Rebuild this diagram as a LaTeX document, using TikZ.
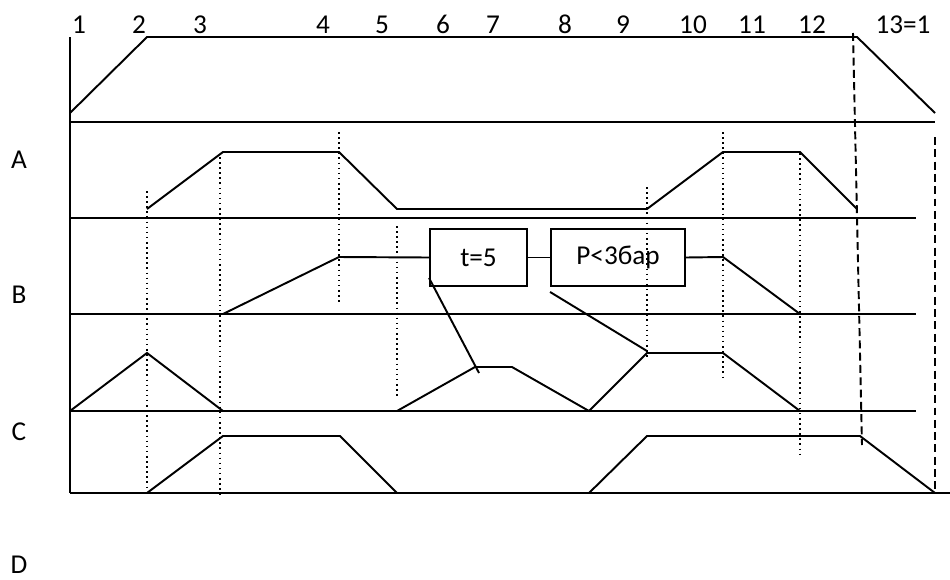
\documentclass[tikz,border=0pt]{standalone}
\usepackage{fontspec}
\setmainfont{Carlito}
\usetikzlibrary{calc}

\begin{document}
\begin{tikzpicture}[
    x=0.02cm, y=-0.02cm,
    sig/.style={line width=1.1pt, line join=miter},
    guide/.style={dotted, line width=0.9pt},
    endcut/.style={line width=1.1pt, dash pattern=on 4.5pt off 2.5pt},
    lbl/.style={font=\fontsize{15.5}{18}\selectfont, inner sep=0pt, anchor=base},
    cond/.style={draw, line width=1.1pt, inner sep=0pt, minimum height=1.14cm,
        font=\fontsize{15.5}{18}\selectfont},
]
\useasboundingbox (0,0) rectangle (950,579);
% ----- step numbers and row names
\foreach \x/\t [count=\k] in {79/1, 139/2, 200/3, 323/4, 382/5, 443/6, 493/7,
    565/8, 623/9, 693/10, 752/11, 812/12, 903/13=1}
  \node[lbl] (s\k) at (\x,33) {\t};
\node[lbl] (labA) at (19,168) {A};
\node[lbl] (labB) at (19,303) {B};
\node[lbl] (labC) at (19,440) {C};
\node[lbl] (labD) at (19,573) {D};
% ----- frame
\draw[sig] (70,37) -- (70,493);
\draw[sig] (70,113) -- (147,37) -- (857,37) -- (935,113);
\draw[sig] (70,122) -- (935,122);
\draw[sig] (70,218) -- (916,218);
\draw[sig] (70,314) -- (916,314);
\draw[sig] (70,411) -- (916,411);
\draw[sig] (70,493) -- (950,493);
% ----- dotted step lines
\draw[guide] (147,191) -- (147,496);
\draw[guide] (220,157) -- (220,497);
\draw[guide] (339,132) -- (339,303);
\draw[guide] (397,226) -- (397,398);
\draw[guide] (647,187) -- (647,359);
\draw[guide] (723,132) -- (723,381);
\draw[guide] (800,153) -- (800,457);
% ----- dashed end lines
\draw[endcut] (853,33) -- (862,445);
\draw[endcut] (935,137) -- (935,493);
% ----- A
\draw[sig] (147,209) -- (223,152) -- (339,152) -- (397,209) -- (647,209)
    -- (723,152) -- (800,152) -- (857,209);
% ----- B with the two conditions
\node[cond, minimum width=1.94cm] (tbox) at (478.5,257.5) {t=5};
\node[cond, minimum width=2.68cm] (pbox) at (618,257.5) {P<3бар};
\draw[sig] (223,314) -- (339,257) -- (tbox.west);
\draw[sig] (tbox.east) -- (pbox.west);
\draw[sig] (pbox.east) -- (723,257) -- (800,314);
% ----- C
\draw[sig] (70,411) -- (147,353) -- (223,411);
\draw[sig] (397,411) -- (475,367) -- (512,367) -- (589,411) -- (647,353)
    -- (723,353) -- (800,411);
\draw[sig] ($(tbox.south west)+(0,-9)$) -- (479,373);
\draw[sig] ($(pbox.south west)+(0,5)$) -- (647,351);
% ----- D
\draw[sig] (147,493) -- (223,436) -- (340,436) -- (397,493);
\draw[sig] (589,493) -- (647,436) -- (860,436) -- (935,493);
\end{tikzpicture}
\end{document}
